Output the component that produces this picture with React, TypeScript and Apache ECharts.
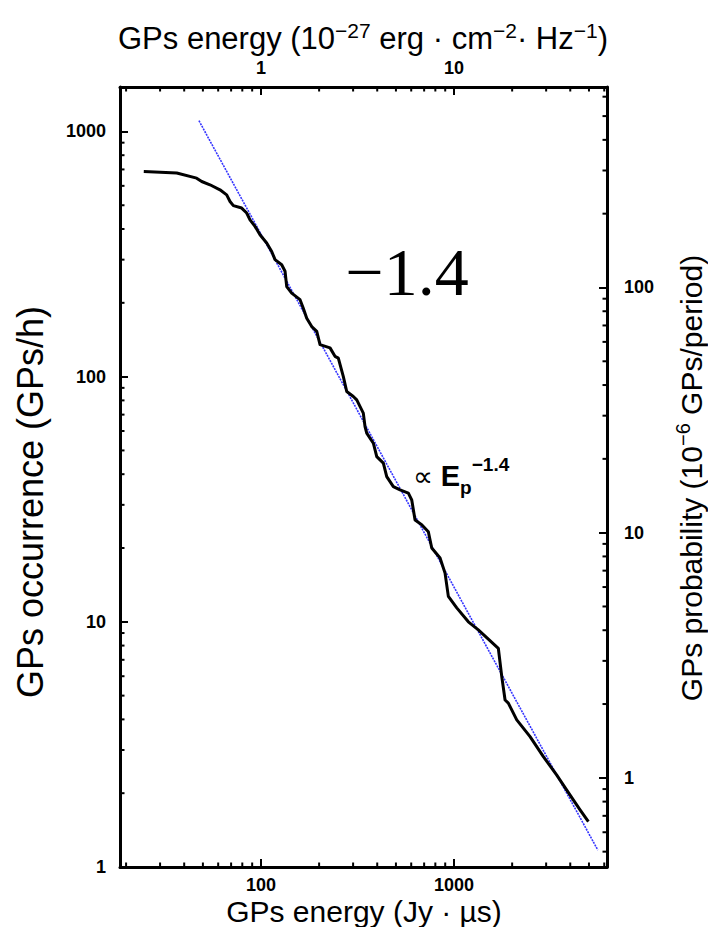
import React, { useEffect, useRef } from "react";
import * as echarts from "echarts";

// Cumulative giant-pulse occurrence (black curve)
const energyJyUs = [24.7, 36.6, 46.4, 49.3, 54.4, 61.3, 66.4, 69.1, 71.9, 79.4, 84.3, 87.7, 93.1, 98.8, 107, 113.6, 118.2, 128, 133.2, 135.9, 144.2, 159.3, 165.6, 172.5, 183.1, 194.4, 202.2, 227.8, 241.7, 251.5, 267, 278, 300.8, 313.3, 338.8, 345.8, 352.9, 381.9, 397.8, 430.3, 448, 484.8, 525.2, 579.9, 603.8, 628.1, 680, 736, 766.5, 846.5, 898.3, 934.3, 1033, 1186, 1336, 1696, 1767, 1838, 1911, 2113, 2476, 2902, 3405, 3836, 4496, 4965];
const occurrencePerHour = [687, 677, 645, 625, 606, 578, 551, 518, 498, 487, 465, 436, 410, 379, 351, 324, 300, 286, 269, 233, 219, 206, 190, 173, 160, 153, 135, 131, 121, 119, 100, 87, 83, 80.4, 71, 62.6, 58.8, 53.5, 47.2, 44.4, 39.1, 35.6, 34.5, 33.5, 31.4, 26.0, 24.9, 23.3, 20.0, 18.2, 15.8, 12.7, 11.4, 10.0, 9.27, 7.8, 5.98, 4.8, 4.66, 3.98, 3.4, 2.82, 2.37, 2.06, 1.71, 1.53];

// Power-law fit (blue line) endpoints
const fitEnergy = [47.7, 5555];
const fitOccurrence = [1106, 1.173];

// Axis ranges
const energyRange = [18.6, 6200]; // Jy·µs
const topUnitFactor = 100; // 1e-27 erg cm^-2 Hz^-1 = 100 Jy·µs
const occurrenceRange = [1, 1518];
const probabilityFactor = 2.31; // GPs/h per 1e-6 GPs/period

// Tick labels
const bottomLabels = [100, 1000];
const topLabels = [1, 10];
const leftLabels = [1, 10, 100, 1000];
const rightLabels = [1, 10, 100];

// Minor tick values
const xMinorTicks = [20, 30, 40, 50, 60, 70, 80, 90, 200, 300, 400, 500, 600, 700, 800, 900, 2000, 3000, 4000, 5000, 6000];
const yMinorTicks = [2, 3, 4, 5, 6, 7, 8, 9, 20, 30, 40, 50, 60, 70, 80, 90, 200, 300, 400, 500, 600, 700, 800, 900];
const rightMinorTicks = [0.5, 0.6, 0.7, 0.8, 0.9, 2, 3, 4, 5, 6, 7, 8, 9, 20, 30, 40, 50, 60, 70, 80, 90, 200, 300, 400, 500, 600];

const FONT = "'Liberation Sans', Arial, Helvetica, sans-serif";

const fmt = (list: number[]) => (v: number) => {
  const r = Number(Number(v).toPrecision(6));
  return list.includes(r) ? String(r) : "";
};

export default function App() {
  const ref = useRef<HTMLDivElement>(null);

  useEffect(() => {
    document.body.style.margin = "0";
    if (!ref.current) return;
    const chart = echarts.init(ref.current, undefined, { renderer: "svg" });

    const tickLabelStyle = {
      fontFamily: FONT,
      fontSize: 18,
      fontWeight: "bold" as const,
      color: "#000",
    };
    const axisLine = { show: true, lineStyle: { color: "#000", width: 3 } };
    const axisTick = { show: true, inside: true, length: 8, lineStyle: { color: "#000", width: 2 } };

    const tickLine = (x1: number, y1: number, x2: number, y2: number) => ({
      type: "line",
      shape: { x1, y1, x2, y2 },
      style: { stroke: "#000", lineWidth: 2 },
    });

    const option: any = {
      animation: false,
      backgroundColor: "#fff",
      grid: { left: 120, top: 87, width: 487, height: 780, containLabel: false },
      xAxis: [
        {
          type: "log",
          position: "bottom",
          min: energyRange[0],
          max: energyRange[1],
          axisLine,
          axisTick,
          splitLine: { show: false },
          axisLabel: { ...tickLabelStyle, margin: 9, showMinLabel: false, showMaxLabel: false, formatter: fmt(bottomLabels) },
        },
        {
          type: "log",
          position: "top",
          min: energyRange[0] / topUnitFactor,
          max: energyRange[1] / topUnitFactor,
          axisLine,
          axisTick,
          splitLine: { show: false },
          axisLabel: { ...tickLabelStyle, margin: 10, showMinLabel: false, showMaxLabel: false, formatter: fmt(topLabels) },
        },
      ],
      yAxis: [
        {
          type: "log",
          position: "left",
          min: occurrenceRange[0],
          max: occurrenceRange[1],
          axisLine,
          axisTick,
          splitLine: { show: false },
          axisLabel: { ...tickLabelStyle, margin: 14, showMinLabel: true, showMaxLabel: false, formatter: fmt(leftLabels) },
        },
        {
          type: "log",
          position: "right",
          min: occurrenceRange[0] / probabilityFactor,
          max: occurrenceRange[1] / probabilityFactor,
          axisLine,
          axisTick,
          splitLine: { show: false },
          axisLabel: { ...tickLabelStyle, margin: 17, showMinLabel: false, showMaxLabel: false, formatter: fmt(rightLabels) },
        },
      ],
      series: [
        {
          type: "custom",
          name: "xMinor",
          xAxisIndex: 0,
          yAxisIndex: 0,
          silent: true,
          clip: false,
          data: xMinorTicks.map((v) => [v, occurrenceRange[0]]),
          renderItem: (params: any, api: any) => {
            const cs = params.coordSys;
            const x = api.coord([api.value(0), api.value(1)])[0];
            const b = cs.y + cs.height;
            return {
              type: "group",
              children: [tickLine(x, b, x, b - 4.5), tickLine(x, cs.y, x, cs.y + 4.5)],
            };
          },
        },
        {
          type: "custom",
          name: "yMinor",
          xAxisIndex: 0,
          yAxisIndex: 0,
          silent: true,
          clip: false,
          data: yMinorTicks.map((v) => [energyRange[0], v]),
          renderItem: (params: any, api: any) => {
            const cs = params.coordSys;
            const y = api.coord([api.value(0), api.value(1)])[1];
            return tickLine(cs.x, y, cs.x + 4.5, y);
          },
        },
        {
          type: "custom",
          name: "rightMinor",
          xAxisIndex: 0,
          yAxisIndex: 1,
          silent: true,
          clip: false,
          data: rightMinorTicks.map((v) => [energyRange[0], v]),
          renderItem: (params: any, api: any) => {
            const cs = params.coordSys;
            const y = api.coord([api.value(0), api.value(1)])[1];
            const r = cs.x + cs.width;
            return tickLine(r, y, r - 4.5, y);
          },
        },
        {
          type: "line",
          name: "fit",
          xAxisIndex: 0,
          yAxisIndex: 0,
          data: fitEnergy.map((e, i) => [e, fitOccurrence[i]]),
          showSymbol: false,
          symbol: "none",
          lineStyle: { color: "#3535ff", width: 1.6, type: [2, 1] },
          z: 3,
        },
        {
          type: "line",
          name: "occurrence",
          xAxisIndex: 0,
          yAxisIndex: 0,
          data: energyJyUs.map((e, i) => [e, occurrencePerHour[i]]),
          showSymbol: false,
          symbol: "none",
          lineStyle: { color: "#000", width: 3, join: "round" },
          z: 4,
        },
      ],
      graphic: [
        {
          type: "text",
          x: 363,
          y: 38,
          style: {
            text: "GPs energy (10{sup|−27} erg · cm{sup|−2}· Hz{sup|−1})",
            font: `31px ${FONT}`,
            fill: "#000",
            textAlign: "center",
            textVerticalAlign: "middle",
            rich: {
              sup: { fontSize: 21, fontFamily: FONT, verticalAlign: "top", lineHeight: 22, fill: "#000" },
            },
            lineHeight: 37,
          },
        },
        {
          type: "text",
          x: 364,
          y: 911,
          style: {
            text: "GPs energy (Jy · µs)",
            font: `30px ${FONT}`,
            fill: "#000",
            textAlign: "center",
            textVerticalAlign: "middle",
          },
        },
        {
          type: "text",
          x: 30,
          y: 502,
          rotation: Math.PI / 2,
          style: {
            text: "GPs occurrence (GPs/h)",
            font: `36px ${FONT}`,
            fill: "#000",
            textAlign: "center",
            textVerticalAlign: "middle",
          },
        },
        {
          type: "text",
          x: 691,
          y: 478,
          rotation: Math.PI / 2,
          style: {
            text: "GPs probability (10{sup|−6} GPs/period)",
            font: `30px ${FONT}`,
            fill: "#000",
            textAlign: "center",
            textVerticalAlign: "middle",
            rich: {
              sup: { fontSize: 20, fontFamily: FONT, verticalAlign: "top", lineHeight: 22, fill: "#000" },
            },
            lineHeight: 36,
          },
        },
        {
          type: "text",
          x: 407,
          y: 272,
          style: {
            text: "−1.4",
            font: `68px 'Liberation Serif', 'Times New Roman', serif`,
            fill: "#000",
            textAlign: "center",
            textVerticalAlign: "middle",
          },
        },
        {
          type: "text",
          x: 413,
          y: 476,
          style: {
            text: "{a|∝ }{e|E}{sub|p}{sup|−1.4}",
            textAlign: "left",
            textVerticalAlign: "middle",
            fill: "#000",
            rich: {
              a: { fontSize: 28, fontFamily: FONT, lineHeight: 42, fill: "#000" },
              e: { fontSize: 29, fontFamily: FONT, fontWeight: "bold", lineHeight: 42, fill: "#000" },
              sub: { fontSize: 19, fontFamily: FONT, fontWeight: "bold", verticalAlign: "bottom", lineHeight: 22, fill: "#000" },
              sup: { fontSize: 19, fontFamily: FONT, fontWeight: "bold", verticalAlign: "top", lineHeight: 22, fill: "#000" },
            },
          },
        },
      ],
    };

    chart.setOption(option);
    return () => chart.dispose();
  }, []);

  return <div ref={ref} style={{ width: 708, height: 927, position: "absolute", left: 0, top: 0 }} />;
}
